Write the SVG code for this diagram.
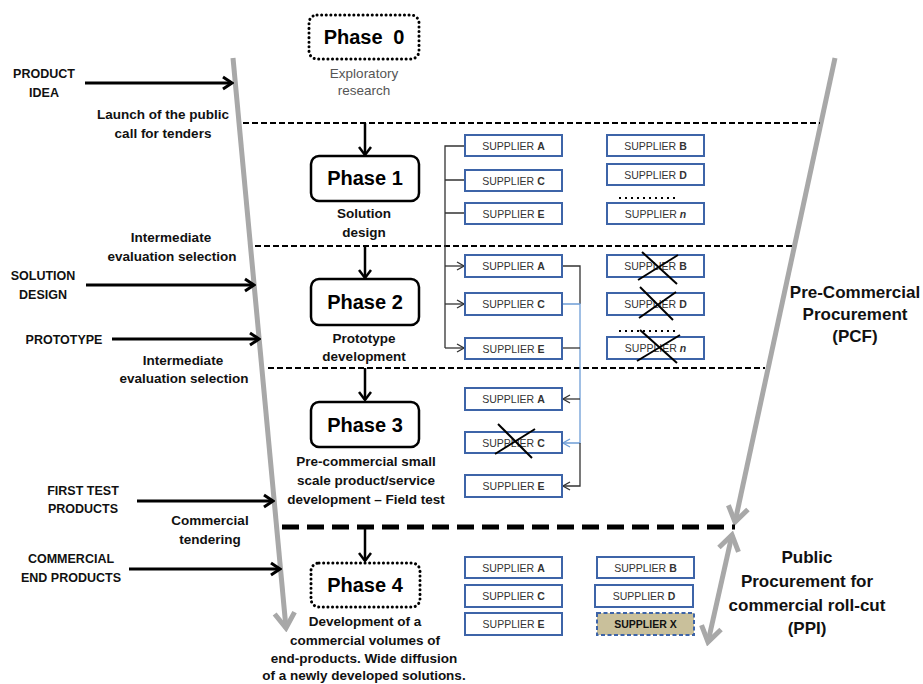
<svg xmlns="http://www.w3.org/2000/svg" width="923" height="684" viewBox="0 0 923 684">
<style>
text{font-family:"Liberation Sans",Arial,sans-serif}
.b{font-weight:bold;font-size:13.5px;text-anchor:middle;fill:#111}
.s{font-weight:bold;font-size:12.5px;text-anchor:middle;fill:#111}
.ph{font-weight:bold;font-size:20px;text-anchor:middle;fill:#000}
.big{font-weight:bold;font-size:17px;text-anchor:middle;fill:#111}
.g{font-size:13.5px;text-anchor:middle;fill:#555}
.sup rect{fill:#fff;stroke:#3D64A8;stroke-width:2}
.sup text{font-size:10.5px;text-anchor:middle;fill:#333}
.k{font-weight:bold}
.box{fill:#fff;stroke:#000;stroke-width:2.5}
.dot{fill:#fff;stroke:#000;stroke-width:3;stroke-dasharray:0.1 4.5;stroke-linecap:round}
.dash{stroke:#000;stroke-width:2;stroke-dasharray:6 3;fill:none}
.tdash{stroke:#000;stroke-width:5;stroke-dasharray:17 8;fill:none}
.in{stroke:#000;stroke-width:3;fill:none;marker-end:url(#ah)}
.dn{stroke:#000;stroke-width:2.5;fill:none;marker-end:url(#ah2)}
.gl{stroke:#A8A8A8;stroke-width:5;fill:none}
.tr{stroke:#333;stroke-width:1.3;fill:none}
.bl{stroke:#6E9DD6;stroke-width:1.3;fill:none}
.x{stroke:#000;stroke-width:2}
.dots{stroke:#000;stroke-width:2;stroke-dasharray:2 4}
</style>
<defs>
<marker id="ah" markerWidth="13" markerHeight="16" refX="11" refY="8" orient="auto" markerUnits="userSpaceOnUse"><path d="M2,2 L11,8 L2,14" fill="none" stroke="#000" stroke-width="3"/></marker>
<marker id="ah2" markerWidth="14" markerHeight="14" refX="7" refY="11" orient="0" markerUnits="userSpaceOnUse"><path d="M1,3 L7,11 L13,3" fill="none" stroke="#000" stroke-width="2.5"/></marker>
<marker id="sa" markerWidth="9" markerHeight="10" refX="8" refY="5" orient="auto" markerUnits="userSpaceOnUse"><path d="M1,1 L8,5 L1,9" fill="none" stroke="#333" stroke-width="1.3"/></marker>
<marker id="sab" markerWidth="9" markerHeight="10" refX="8" refY="5" orient="auto" markerUnits="userSpaceOnUse"><path d="M1,1 L8,5 L1,9" fill="none" stroke="#6E9DD6" stroke-width="1.3"/></marker>
<marker id="ga" markerWidth="22" markerHeight="26" refX="18" refY="13" orient="auto-start-reverse" markerUnits="userSpaceOnUse"><path d="M3,3 L18,13 L3,23" fill="none" stroke="#A8A8A8" stroke-width="5"/></marker>
</defs>
<rect width="923" height="684" fill="#fff"/>

<g id="connectors">
<line class="gl" x1="233" y1="58" x2="286" y2="628" marker-end="url(#ga)"/>
<line class="gl" x1="835" y1="58" x2="735" y2="522" marker-end="url(#ga)"/>
<line class="gl" x1="732" y1="535" x2="708" y2="642" marker-start="url(#ga)" marker-end="url(#ga)"/>
<line class="dash" x1="243" y1="123" x2="820" y2="123"/>
<line class="dash" x1="255" y1="246" x2="792" y2="246"/>
<line class="dash" x1="268" y1="368" x2="765" y2="368"/>
<line class="tdash" x1="282" y1="527" x2="735" y2="527"/>
<line class="in" x1="85" y1="83" x2="232" y2="83"/>
<line class="in" x1="86" y1="285" x2="254" y2="285"/>
<line class="in" x1="112" y1="339" x2="259" y2="339"/>
<line class="in" x1="137" y1="501" x2="273" y2="501"/>
<line class="in" x1="129" y1="569" x2="280" y2="569"/>
<line class="dn" x1="365" y1="123" x2="365" y2="155"/>
<line class="dn" x1="365" y1="246" x2="365" y2="278"/>
<line class="dn" x1="365" y1="368" x2="365" y2="400"/>
<line class="dn" x1="365" y1="527" x2="365" y2="561"/>
<path class="tr" d="M465,146 H445 V348"/>
<path class="tr" d="M445,180 H465 M445,213 H465"/>
<path class="tr" d="M445,266 H464" marker-end="url(#sa)"/>
<path class="tr" d="M445,304 H464" marker-end="url(#sa)"/>
<path class="tr" d="M445,348 H464" marker-end="url(#sa)"/>
<path class="tr" d="M562,266 H580 V304"/>
<path class="bl" d="M562,304 H580 V443 H563" marker-end="url(#sab)"/>
<path class="tr" d="M562,348 H580"/>
<path class="tr" d="M580,399 H563" marker-end="url(#sa)"/>
<path class="tr" d="M580,443 V486 H563" marker-end="url(#sa)"/>
</g>

<g id="phase0">
<rect class="dot" x="309" y="15" width="110" height="44" rx="8"/>
<text class="ph" x="364" y="44">Phase <tspan dx="5">0</tspan></text>
<text class="g" x="364" y="78">Exploratory</text>
<text class="g" x="364" y="95">research</text>
</g>
<g id="phase1">
<rect class="box" x="311" y="156" width="108" height="45" rx="8"/>
<text class="ph" x="365" y="185">Phase 1</text>
<text class="b" x="364" y="218">Solution</text>
<text class="b" x="364" y="237">design</text>
</g>
<g id="phase2">
<rect class="box" x="311" y="279" width="108" height="46" rx="8"/>
<text class="ph" x="365" y="309">Phase 2</text>
<text class="b" x="364" y="343">Prototype</text>
<text class="b" x="364" y="361">development</text>
</g>
<g id="phase3">
<rect class="box" x="311" y="402" width="108" height="45" rx="8"/>
<text class="ph" x="365" y="432">Phase 3</text>
<text class="b" x="366" y="466">Pre-commercial small</text>
<text class="b" x="366" y="485">scale product/service</text>
<text class="b" x="366" y="504">development – Field test</text>
</g>
<g id="phase4">
<rect class="dot" x="311" y="563" width="109" height="44" rx="8"/>
<text class="ph" x="365" y="592">Phase 4</text>
<text class="b" x="365" y="626">Development of a</text>
<text class="b" x="365" y="645">commercial volumes of</text>
<text class="b" x="364" y="663">end-products. Wide diffusion</text>
<text class="b" x="364" y="680">of a newly developed solutions.</text>
</g>

<g id="left-labels">
<text class="s" x="44" y="78">PRODUCT</text>
<text class="s" x="44" y="97">IDEA</text>
<text class="b" x="163" y="119">Launch of the public</text>
<text class="b" x="163" y="138">call for tenders</text>
<text class="b" x="171" y="242">Intermediate</text>
<text class="b" x="172" y="261">evaluation selection</text>
<text class="s" x="43" y="280">SOLUTION</text>
<text class="s" x="43" y="299">DESIGN</text>
<text class="s" x="64" y="344">PROTOTYPE</text>
<text class="b" x="183" y="365">Intermediate</text>
<text class="b" x="184" y="383">evaluation selection</text>
<text class="s" x="83" y="495">FIRST TEST</text>
<text class="s" x="83" y="513">PRODUCTS</text>
<text class="b" x="210" y="525">Commercial</text>
<text class="b" x="210" y="544">tendering</text>
<text class="s" x="71" y="563">COMMERCIAL</text>
<text class="s" x="71" y="582">END PRODUCTS</text>
</g>

<g id="pcf">
<text class="big" x="855" y="298">Pre-Commercial</text>
<text class="big" x="855" y="320">Procurement</text>
<text class="big" x="855" y="342">(PCF)</text>
</g>
<g id="ppi">
<text class="big" x="807" y="563">Public</text>
<text class="big" x="807" y="587">Procurement for</text>
<text class="big" x="807" y="611">commercial roll-cut</text>
<text class="big" x="807" y="634">(PPI)</text>
</g>

<g id="p1-suppliers" class="sup">
<g id="p1-a"><rect x="465" y="135" width="97" height="21"/><text x="513.5" y="149.5">SUPPLIER <tspan class="k">A</tspan></text></g>
<g id="p1-c"><rect x="465" y="170" width="97" height="21"/><text x="513.5" y="184.5">SUPPLIER <tspan class="k">C</tspan></text></g>
<g id="p1-e"><rect x="465" y="203" width="97" height="21"/><text x="513.5" y="217.5">SUPPLIER <tspan class="k">E</tspan></text></g>
<g id="p1-b"><rect x="607" y="135" width="97" height="21"/><text x="655.5" y="149.5">SUPPLIER <tspan class="k">B</tspan></text></g>
<g id="p1-d"><rect x="607" y="164" width="97" height="21"/><text x="655.5" y="178.5">SUPPLIER <tspan class="k">D</tspan></text></g>
<line class="dots" x1="619" y1="198" x2="675" y2="198"/>
<g id="p1-n"><rect x="607" y="203" width="97" height="21"/><text x="655.5" y="217.5">SUPPLIER <tspan class="k" font-style="italic">n</tspan></text></g>
</g>

<g id="p2-suppliers" class="sup">
<g id="p2-a"><rect x="465" y="255" width="97" height="22"/><text x="513.5" y="270">SUPPLIER <tspan class="k">A</tspan></text></g>
<g id="p2-c"><rect x="465" y="293" width="97" height="22"/><text x="513.5" y="308">SUPPLIER <tspan class="k">C</tspan></text></g>
<g id="p2-e"><rect x="465" y="338" width="97" height="21"/><text x="513.5" y="352.5">SUPPLIER <tspan class="k">E</tspan></text></g>
<g id="p2-b"><rect x="607" y="255" width="97" height="22"/><text x="655.5" y="270">SUPPLIER <tspan class="k">B</tspan></text>
<line class="x" x1="642" y1="252" x2="677" y2="284"/><line class="x" x1="638" y1="280" x2="678" y2="255"/></g>
<g id="p2-d"><rect x="607" y="293" width="97" height="22"/><text x="655.5" y="308">SUPPLIER <tspan class="k">D</tspan></text>
<line class="x" x1="640" y1="287" x2="673" y2="320"/><line class="x" x1="639" y1="318" x2="676" y2="292"/></g>
<line class="dots" x1="619" y1="331" x2="675" y2="331"/>
<g id="p2-n"><rect x="607" y="337" width="97" height="22"/><text x="655.5" y="352">SUPPLIER <tspan class="k" font-style="italic">n</tspan></text>
<line class="x" x1="640" y1="330" x2="677" y2="363"/><line class="x" x1="637" y1="361" x2="680" y2="335"/></g>
</g>

<g id="p3-suppliers" class="sup">
<g id="p3-a"><rect x="465" y="388" width="97" height="22"/><text x="513.5" y="403">SUPPLIER <tspan class="k">A</tspan></text></g>
<g id="p3-c"><rect x="465" y="432" width="97" height="21"/><text x="513.5" y="446.5">SUPPLIER <tspan class="k">C</tspan></text>
<line class="x" x1="498" y1="424" x2="532" y2="458"/><line class="x" x1="495" y1="454" x2="535" y2="429"/></g>
<g id="p3-e"><rect x="465" y="475" width="97" height="22"/><text x="513.5" y="490">SUPPLIER <tspan class="k">E</tspan></text></g>
</g>

<g id="p4-suppliers" class="sup">
<g id="p4-a"><rect x="465" y="557" width="97" height="21"/><text x="513.5" y="571.5">SUPPLIER <tspan class="k">A</tspan></text></g>
<g id="p4-c"><rect x="465" y="585" width="97" height="22"/><text x="513.5" y="600">SUPPLIER <tspan class="k">C</tspan></text></g>
<g id="p4-e"><rect x="465" y="613" width="97" height="22"/><text x="513.5" y="628">SUPPLIER <tspan class="k">E</tspan></text></g>
<g id="p4-b"><rect x="597" y="557" width="97" height="21"/><text x="645.5" y="571.5">SUPPLIER <tspan class="k">B</tspan></text></g>
<g id="p4-d"><rect x="595" y="585" width="98" height="22"/><text x="644" y="600">SUPPLIER <tspan class="k">D</tspan></text></g>
<g id="p4-x"><rect x="597" y="613" width="97" height="22" style="fill:#C9C09B;stroke-dasharray:4 2.5"/><text x="645.5" y="628" class="k" style="fill:#111">SUPPLIER X</text></g>
</g>
</svg>
